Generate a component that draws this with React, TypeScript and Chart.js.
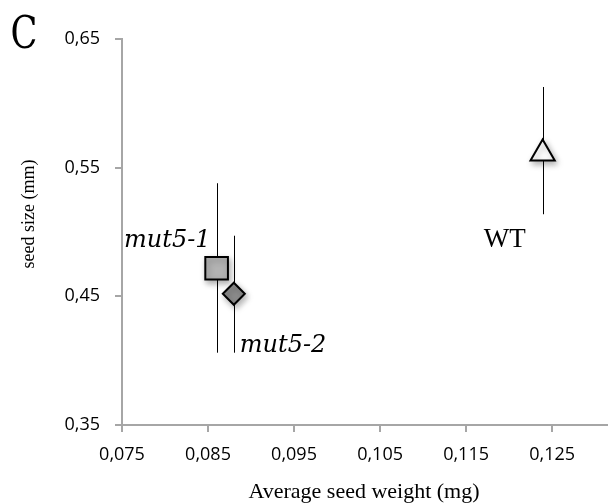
import React, { useEffect, useRef } from 'react';
import { Chart, registerables } from 'chart.js';

Chart.register(...registerables);

const labels = ['mut5-1', 'mut5-2', 'WT'];
const weights = [0.086, 0.088, 0.1239];
const sizes = [0.4718, 0.452, 0.561];
const errLow = [0.4062, 0.4062, 0.5138];
const errHigh = [0.5379, 0.4971, 0.6127];
const xTicks = [0.075, 0.085, 0.095, 0.105, 0.115, 0.125];
const yTicks = [0.35, 0.45, 0.55, 0.65];

const pointStyles = ['rect', 'rectRot', 'triangle'];
const pointFills = ['#b3b3b3', '#8c8c8c', '#ffffff'];
const pointRadii = [16, 11, 14];

const tickFont = { family: '"Open Sans", sans-serif', size: 18 };
const axisGray = '#a6a6a6';

const overlay = {
  id: 'overlay',
  beforeDatasetsDraw(chart: any) {
    const { ctx, scales } = chart;
    const x = scales.x;
    const y = scales.y;
    ctx.save();
    ctx.strokeStyle = '#000';
    ctx.lineWidth = 1;
    weights.forEach((w, i) => {
      const px = Math.round(x.getPixelForValue(w)) + 0.5;
      ctx.beginPath();
      ctx.moveTo(px, y.getPixelForValue(errHigh[i]));
      ctx.lineTo(px, y.getPixelForValue(errLow[i]));
      ctx.stroke();
    });
    ctx.restore();
  },
  beforeDatasetDraw(chart: any) {
    const ctx = chart.ctx;
    ctx.save();
    ctx.shadowColor = 'rgba(0,0,0,0.3)';
    ctx.shadowBlur = 6;
    ctx.shadowOffsetX = 2;
    ctx.shadowOffsetY = 3;
  },
  afterDatasetDraw(chart: any) {
    chart.ctx.restore();
  },
  afterDraw(chart: any) {
    const { ctx, scales, chartArea } = chart;
    const x = scales.x;
    const y = scales.y;
    ctx.save();
    ctx.fillStyle = '#000';
    ctx.textBaseline = 'alphabetic';
    const px = (i: number) => x.getPixelForValue(weights[i]);
    const py = (i: number) => y.getPixelForValue(sizes[i]);
    ctx.font = 'italic 24px "DejaVu Serif"';
    ctx.textAlign = 'right';
    ctx.fillText(labels[0], px(0) - 6, py(0) - 21.5);
    ctx.textAlign = 'left';
    ctx.fillText(labels[1], px(1) + 6, py(1) + 58);
    ctx.font = '27px "Liberation Serif"';
    ctx.textAlign = 'right';
    ctx.fillText(labels[2], px(2) - 17, py(2) + 93);

    ctx.font = '22px "Liberation Serif"';
    ctx.textAlign = 'center';
    ctx.textBaseline = 'middle';
    ctx.fillText('Average seed weight (mg)', (chartArea.left + chartArea.right) / 2 - 1, 492);
    ctx.save();
    ctx.translate(29, 214);
    ctx.rotate(-Math.PI / 2);
    ctx.font = '18px "Liberation Serif"';
    ctx.fillText('seed size (mm)', 0, 0);
    ctx.restore();

    ctx.save();
    ctx.translate(24, 48);
    ctx.scale(0.8, 1);
    ctx.font = '44px "DejaVu Serif"';
    ctx.textAlign = 'center';
    ctx.textBaseline = 'alphabetic';
    ctx.fillText('C', 0, 0);
    ctx.restore();
    ctx.restore();
  },
};

export default function App() {
  const canvasRef = useRef<HTMLCanvasElement | null>(null);

  useEffect(() => {
    if (!canvasRef.current) return;
    const chart = new Chart(canvasRef.current, {
      type: 'scatter',
      data: {
        datasets: [
          {
            data: weights.map((w, i) => ({ x: w, y: sizes[i] })),
            pointStyle: pointStyles as any,
            pointRadius: pointRadii,
            pointHoverRadius: pointRadii,
            backgroundColor: pointFills,
            borderColor: '#000',
            borderWidth: 2,
            showLine: false,
          },
        ],
      },
      options: {
        animation: false,
        responsive: true,
        maintainAspectRatio: false,
        layout: { autoPadding: false, padding: { top: 39, right: 0, bottom: 0, left: 0 } },
        plugins: {
          legend: { display: false },
          tooltip: { enabled: false },
          title: { display: false },
        },
        scales: {
          x: {
            type: 'linear',
            min: 0.075,
            max: 0.1315,
            afterBuildTicks: (s: any) => {
              s.ticks = xTicks.map((v) => ({ value: v }));
            },
            afterFit: (s: any) => {
              s.height = 79;
              s.paddingLeft = 0;
              s.paddingRight = 0;
            },
            ticks: {
              callback: (v: any) => Number(v).toFixed(3).replace('.', ','),
              font: tickFont,
              color: '#000',
              padding: 12,
              maxRotation: 0,
              autoSkip: false,
            },
            grid: { drawOnChartArea: false, drawTicks: true, tickLength: 7, color: axisGray, lineWidth: 2 },
            border: { color: axisGray, width: 2 },
          },
          y: {
            type: 'linear',
            min: 0.35,
            max: 0.65,
            afterBuildTicks: (s: any) => {
              s.ticks = yTicks.map((v) => ({ value: v }));
            },
            afterFit: (s: any) => {
              s.width = 122;
            },
            ticks: {
              callback: (v: any) => Number(v).toFixed(2).replace('.', ','),
              font: tickFont,
              color: '#000',
              padding: 15,
              autoSkip: false,
            },
            grid: { drawOnChartArea: false, drawTicks: true, tickLength: 7, color: axisGray, lineWidth: 2 },
            border: { color: axisGray, width: 2 },
          },
        },
      },
      plugins: [overlay],
    });
    return () => chart.destroy();
  }, []);

  return (
    <div style={{ position: 'fixed', left: 0, top: 0, width: 608, height: 504, background: '#fff' }}>
      <canvas ref={canvasRef} />
    </div>
  );
}
